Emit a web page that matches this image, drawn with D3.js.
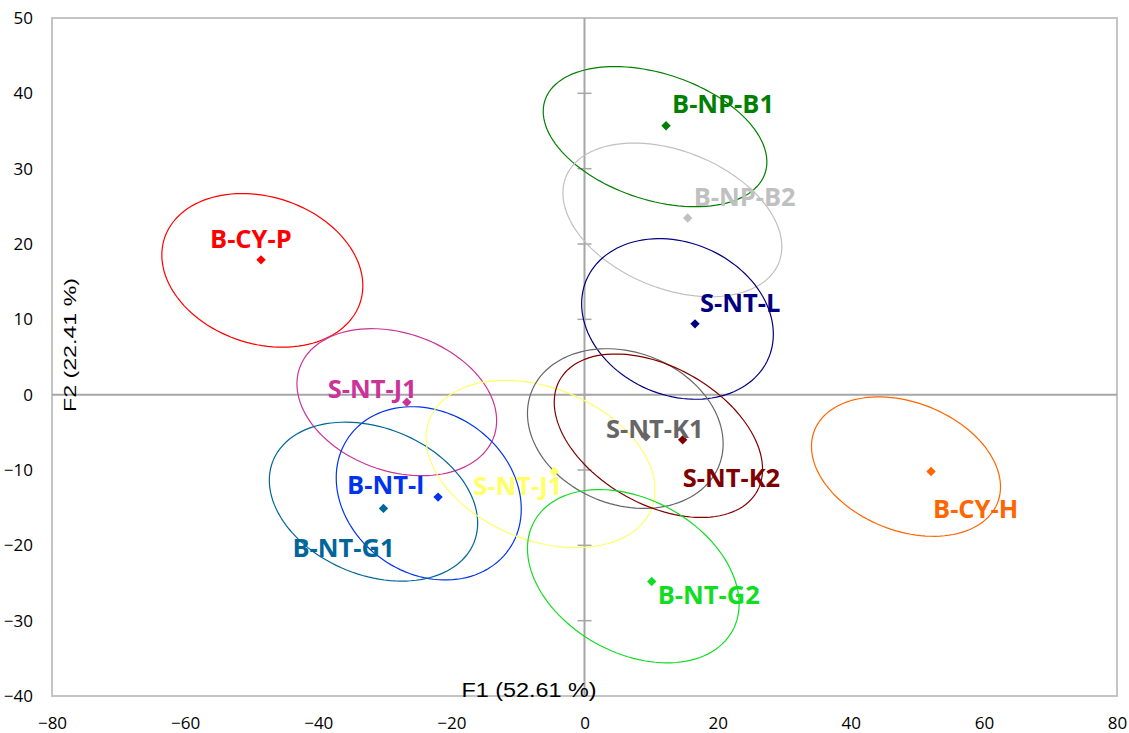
<!DOCTYPE html>
<html>
<head>
<meta charset="utf-8">
<script src="https://cdn.jsdelivr.net/npm/d3@7"></script>
<style>
  body { margin: 0; background: #fff; }
  svg { display: block; }
</style>
</head>
<body>
<div id="chart"></div>
<script>
// group names, centroid points, and confidence ellipses (all in F1/F2 units)
var groups = ['B-NP-B1', 'B-NP-B2', 'S-NT-L', 'B-CY-P', 'S-NT-J1', 'B-NT-I', 'B-NT-G1', 'S-NT-J1', 'S-NT-K1', 'S-NT-K2', 'B-NT-G2', 'B-CY-H'];
var pointX = [12.25, 15.5, 16.6, -48.6, -26.7, -22.0, -30.2, -4.55, 9.24, 14.75, 10.1, 52.06];
var pointY = [35.7, 23.45, 9.4, 17.9, -1.0, -13.6, -15.1, -10.2, -5.6, -6.0, -24.8, -10.2];
var ellCx = [10.6, 13.2, 13.97, -48.4, -28.2, -23.4, -31.7, -6.6, 6.13, 11.1, 7.33, 48.3];
var ellCy = [34.25, 23.2, 10.05, 16.5, -1.0, -13.1, -14.2, -9.2, -4.5, -5.45, -24.1, -9.55];
var ellRx = [16.8, 16.45, 14.4, 15.1, 15.0, 13.9, 15.65, 17.2, 14.7, 15.65, 15.9, 14.2];
var ellRy = [9.3, 10.2, 10.66, 10.2, 9.76, 11.5, 10.55, 11.1, 10.6, 10.85, 11.5, 9.25];
var ellRho = [-0.36, -0.35, -0.19, -0.2, -0.25, -0.18, -0.27, -0.31, -0.19, -0.41, -0.32, -0.29];

var xTicks = [-80, -60, -40, -20, 0, 20, 40, 60, 80];
var yTicks = [-40, -30, -20, -10, 0, 10, 20, 30, 40, 50];
var xTitle = 'F1 (52.61 %)';
var yTitle = 'F2 (22.41 %)';

// styling
var colors = ['#008000', '#c0c0c0', '#000080', '#ff0000', '#cc3399', '#0033ee', '#006699', '#ffff66', '#666666', '#800000', '#11dd22', '#ff6600'];
var labelDx = [6, 6, 5, -51, -79, -91, -91, -81, -40, 0, 6, 2];
var labelDy = [-13, -12, -12, -12, -4, -3, 49, 23, 1, 47, 23, 46];

var W = 1129, H = 733;
var margin = {top: 18, right: 12, bottom: 37, left: 52};

var svg = d3.select('#chart').append('svg')
    .attr('width', W)
    .attr('height', H);

var x = d3.scaleLinear().domain([-80, 80]).range([margin.left, W - margin.right]);
var y = d3.scaleLinear().domain([-40, 50]).range([H - margin.bottom, margin.top]);

// frame
svg.append('rect')
    .attr('x', x(-80))
    .attr('y', y(50))
    .attr('width', x(80) - x(-80))
    .attr('height', y(-40) - y(50))
    .attr('fill', 'none')
    .attr('stroke', '#c4c4c4')
    .attr('stroke-width', 2);

// tick labels
var yAxis = svg.append('g')
    .attr('transform', 'translate(' + x(-80) + ',0)')
    .call(d3.axisLeft(y).tickValues(yTicks).tickSize(0).tickPadding(19));
var xAxis = svg.append('g')
    .attr('transform', 'translate(0,' + y(-40) + ')')
    .call(d3.axisBottom(x).tickValues(xTicks).tickSize(0).tickPadding(21));
[xAxis, yAxis].forEach(function (a) {
    a.select('.domain').remove();
    a.selectAll('text')
        .style('font-family', '"Open Sans", sans-serif')
        .style('font-size', '17px')
        .attr('fill', '#000');
});

// axes through origin
svg.append('line')
    .attr('x1', x(-80)).attr('x2', x(80))
    .attr('y1', y(0)).attr('y2', y(0))
    .attr('stroke', '#a6a6a6').attr('stroke-width', 2);
svg.append('line')
    .attr('x1', x(0)).attr('x2', x(0))
    .attr('y1', y(50)).attr('y2', y(-40))
    .attr('stroke', '#a6a6a6').attr('stroke-width', 2);
svg.append('g').selectAll('line')
    .data(yTicks.filter(function (d) { return d > -40 && d < 50; }))
    .enter()
    .append('line')
    .attr('x1', x(0) - 7).attr('x2', x(0) + 7)
    .attr('y1', function (d) { return y(d); })
    .attr('y2', function (d) { return y(d); })
    .attr('stroke', '#a6a6a6').attr('stroke-width', 1.5);

// axis titles
svg.append('text')
    .attr('x', 529)
    .attr('y', 697)
    .attr('text-anchor', 'middle')
    .attr('textLength', 135)
    .attr('lengthAdjust', 'spacingAndGlyphs')
    .style('font-family', '"Liberation Sans", Arial, sans-serif')
    .style('font-size', '20px')
    .text(xTitle);
svg.append('text')
    .attr('transform', 'translate(76,345) rotate(-90)')
    .attr('text-anchor', 'middle')
    .attr('textLength', 134)
    .attr('lengthAdjust', 'spacingAndGlyphs')
    .style('font-family', '"Liberation Sans", Arial, sans-serif')
    .style('font-size', '16px')
    .text(yTitle);

// ellipses
var line = d3.line()
    .x(function (p) { return x(p[0]); })
    .y(function (p) { return y(p[1]); })
    .curve(d3.curveLinearClosed);

var idx = d3.range(groups.length);

function ellipsePts(i) {
    var pts = [];
    var s = Math.sqrt(1 - ellRho[i] * ellRho[i]);
    for (var k = 0; k < 120; k++) {
        var t = k / 120 * 2 * Math.PI;
        pts.push([
            ellCx[i] + ellRx[i] * Math.cos(t),
            ellCy[i] + ellRy[i] * (ellRho[i] * Math.cos(t) + s * Math.sin(t))
        ]);
    }
    return pts;
}

svg.append('g').selectAll('path')
    .data(idx)
    .enter()
    .append('path')
    .attr('d', function (i) { return line(ellipsePts(i)); })
    .attr('fill', 'none')
    .attr('stroke', function (i) { return colors[i]; })
    .attr('stroke-width', 1.2);

// centroids
var diamond = d3.symbol().type(d3.symbolSquare).size(44);
svg.append('g').selectAll('path')
    .data(idx)
    .enter()
    .append('path')
    .attr('d', diamond)
    .attr('transform', function (i) {
        return 'translate(' + x(pointX[i]) + ',' + y(pointY[i]) + ') rotate(45)';
    })
    .attr('fill', function (i) { return colors[i]; });

// labels
svg.append('g').selectAll('text')
    .data(idx)
    .enter()
    .append('text')
    .attr('x', function (i) { return x(pointX[i]) + labelDx[i]; })
    .attr('y', function (i) { return y(pointY[i]) + labelDy[i]; })
    .attr('fill', function (i) { return colors[i]; })
    .style('font-family', '"Open Sans", sans-serif')
    .style('font-weight', 'bold')
    .style('font-size', '25.5px')
    .text(function (i) { return groups[i]; });
</script>
</body>
</html>
